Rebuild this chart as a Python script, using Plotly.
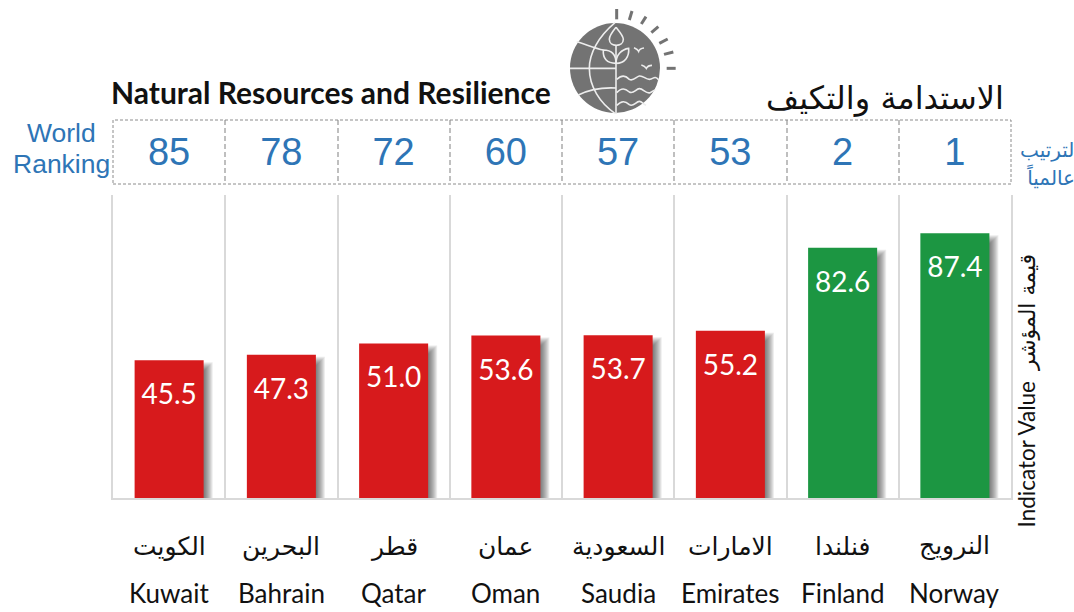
import plotly.graph_objects as go

countries = ["Kuwait", "Bahrain", "Qatar", "Oman", "Saudia", "Emirates", "Finland", "Norway"]
countries_ar = ["الكويت", "البحرين", "قطر", "عمان", "السعودية", "الامارات", "فنلندا", "النرويج"]
values = [45.5, 47.3, 51.0, 53.6, 53.7, 55.2, 82.6, 87.4]
ranks = [85, 78, 72, 60, 57, 53, 2, 1]
bar_colors = ["#D71A1C"] * 6 + ["#1C9642"] * 2

W, H = 1074, 612
L, R = 113, 1011
BAR = 0.615
PXX = 1 / 112.25   # category units per pixel
PXY = 1 / 3.03     # value units per pixel
LATO = "Lato, Carlito, sans-serif"
AR = "'DejaVu Sans', sans-serif"
ARIAL = "'Liberation Sans', Arial, sans-serif"
BLUE = "#2E75B6"
GREY = "#737373"


def px(x):
    return (x - L) / (R - L)


def py(y):
    return 1 - y / H


def path(*pts, close=False):
    out = []
    for seg in pts:
        out.append(seg[0] + " ".join(f"{px(a):.5f},{py(b):.5f}" for a, b in seg[1:]))
    return " ".join(out) + (" Z" if close else "")


def z(x, y):
    return (560 + x / 3, y / 3)


fig = go.Figure()

# soft shadows to the right of and below each bar
for k in range(1, 10):
    fig.add_bar(
        x=countries,
        y=[v + k * 0.6 * PXY - (11 - k) * PXY for v in values],
        base=[-k * 0.6 * PXY] * 8,
        width=BAR + (k - 5) * PXX,
        offset=-BAR / 2 + 5 * PXX,
        marker=dict(color="rgba(40,40,40,0.085)", line=dict(width=0)),
        cliponaxis=False,
        hoverinfo="skip",
        showlegend=False,
    )

fig.add_bar(
    x=countries, y=values, width=BAR,
    marker=dict(color=bar_colors, line=dict(width=0)),
    cliponaxis=False, showlegend=False,
)
fig.add_scatter(
    x=countries, y=[v - 37 * PXY for v in values], mode="text",
    text=[f"{v:.1f}" for v in values],
    textfont=dict(family=LATO, size=28, color="white"),
    textposition="middle center", showlegend=False, hoverinfo="skip",
)
fig.add_scatter(
    x=countries, y=[0.45] * 8, xaxis="x2", yaxis="y2", mode="text",
    text=[str(r) for r in ranks],
    textfont=dict(family=ARIAL, size=38, color=BLUE),
    textposition="middle center", showlegend=False, hoverinfo="skip",
)

shapes = [
    dict(type="rect", xref="x2 domain", yref="y2 domain", x0=0, x1=1, y0=0, y1=1,
         line=dict(color="#8C8C8C", width=1, dash="3px,2px"), layer="above"),
]

# logo
shapes.append(dict(type="circle", xref="paper", yref="paper", x0=px(570), x1=px(660),
                   y0=py(113), y1=py(23), fillcolor=GREY, line=dict(width=0)))
rays = [((170, 27), (170, 58)), ((216, 33), (208, 60)), ((258, 50), (244, 72)),
        ((295, 80), (274, 98)), ((323, 117), (298, 130)), ((340, 156), (312, 163)),
        ((347, 205), (320, 205))]
for a, b in rays:
    shapes.append(dict(type="path", xref="paper", yref="paper",
                       path=path(("M", z(*a)), ("L", z(*b))),
                       line=dict(color=GREY, width=3)))
white = [
    [("M", z(168, 135)), ("L", z(168, 342))],
    [("M", z(165, 68)), ("C", z(115, 110), z(88, 160), z(88, 205)), ("C", z(88, 260), z(120, 310), z(165, 340))],
    [("M", z(30, 205)), ("L", z(168, 205))],
    [("M", z(50, 125)), ("C", z(75, 132), z(105, 145), z(130, 150))],
    [("M", z(55, 285)), ("C", z(85, 270), z(130, 262), z(168, 264))],
    # drop
    [("M", z(168, 82)), ("C", z(155, 98), z(148, 108), z(148, 118)), ("C", z(148, 142), z(190, 142), z(190, 118)),
     ("C", z(190, 108), z(181, 98), z(168, 82))],
    # leaves
    [("M", z(168, 190)), ("C", z(140, 190), z(128, 175), z(130, 150)), ("C", z(155, 150), z(168, 165), z(168, 190))],
    [("M", z(168, 190)), ("C", z(195, 190), z(208, 170), z(206, 145)), ("C", z(185, 148), z(168, 165), z(168, 190))],
    # birds
    [("M", z(222, 143)), ("C", z(230, 146), z(234, 150), z(236, 154)), ("C", z(238, 148), z(244, 145), z(252, 144))],
    [("M", z(244, 195)), ("C", z(252, 197), z(256, 200), z(259, 205)), ("C", z(262, 199), z(268, 196), z(276, 196))],
    # waves
    [("M", z(170, 238)), ("C", z(185, 225), z(195, 225), z(208, 238)), ("C", z(220, 245), z(228, 230), z(238, 228)),
     ("C", z(250, 226), z(258, 240), z(270, 238)), ("C", z(280, 236), z(285, 226), z(296, 240))],
    [("M", z(170, 278)), ("C", z(185, 262), z(195, 265), z(208, 276)), ("C", z(220, 284), z(228, 266), z(238, 266)),
     ("C", z(250, 266), z(258, 282), z(270, 278)), ("C", z(276, 276), z(280, 270), z(286, 270))],
    [("M", z(170, 316)), ("C", z(185, 302), z(195, 302), z(208, 314)), ("C", z(220, 322), z(228, 304), z(238, 304)),
     ("C", z(245, 304), z(250, 312), z(258, 316))],
]
for seg in white:
    shapes.append(dict(type="path", xref="paper", yref="paper", path=path(*seg),
                       line=dict(color="#EDEDED", width=1.6)))

annotations = []


def note(text, x, y, size, color="#111111", family=LATO, xanchor="center", yanchor="middle", **kw):
    annotations.append(dict(text=text, x=px(x), y=py(y), xref="paper", yref="paper", showarrow=False,
                            font=dict(family=family, size=size, color=color),
                            xanchor=xanchor, yanchor=yanchor, **kw))


for name, ar in zip(countries, countries_ar):
    annotations.append(dict(text=ar, x=name, xref="x", y=py(546), yref="paper", showarrow=False,
                            font=dict(family=AR, size=25, color="#111111"), yanchor="middle"))
    annotations.append(dict(text=name, x=name, xref="x", y=py(593), yref="paper", showarrow=False,
                            font=dict(family=LATO, size=26, color="#111111"), yanchor="middle", borderpad=0))

note("<b>Natural Resources and Resilience</b>", 109, 92, 30, xanchor="left")
note("الاستدامة والتكيف", 1006, 98, 32, family=AR, xanchor="right")
note("World", 61, 133, 26.5, color=BLUE, family=ARIAL)
note("Ranking", 61, 164, 26.5, color=BLUE, family=ARIAL)
note("لترتيب", 1047, 150, 20, color=BLUE, family=AR)
note("عالمياً", 1051, 177, 20, color=BLUE, family=AR)
note("Indicator Value", 1026, 530, 22.5, family=LATO, yanchor="bottom", textangle=-90)
note("قيمة المؤشر", 1027, 313, 22, family=AR, textangle=-90)

fig.update_layout(
    width=W, height=H,
    margin=dict(l=L, r=W - R, t=0, b=0, autoexpand=False),
    paper_bgcolor="white", plot_bgcolor="white",
    barmode="overlay", showlegend=False,
    shapes=shapes, annotations=annotations,
    xaxis=dict(type="category", categoryorder="array", categoryarray=countries, domain=[0, 1],
               tickson="boundaries", showgrid=True, gridcolor="#D9D9D9", gridwidth=2,
               showline=True, linecolor="#D9D9D9", linewidth=2, ticks="", showticklabels=False,
               range=[-0.5, 7.5], zeroline=False),
    yaxis=dict(domain=[py(498), py(195)], range=[0, 100], showgrid=False, zeroline=False,
               showticklabels=False, ticks="", showline=True, mirror=True,
               linecolor="#D9D9D9", linewidth=2),
    xaxis2=dict(type="category", categoryorder="array", categoryarray=countries, domain=[0, 1], anchor="y2",
                tickson="boundaries", showgrid=True, gridcolor="#BFBFBF", gridwidth=2, griddash="5px,3px",
                showline=False, ticks="", showticklabels=False, range=[-0.5, 7.5], zeroline=False),
    yaxis2=dict(domain=[py(184), py(120)], range=[0, 1], anchor="x2", showgrid=False, zeroline=False,
                showticklabels=False, ticks="", showline=False),
)

fig.write_html("out.html", config={"displayModeBar": False},
               post_script="document.body.style.margin='0';document.body.style.overflow='hidden';")
